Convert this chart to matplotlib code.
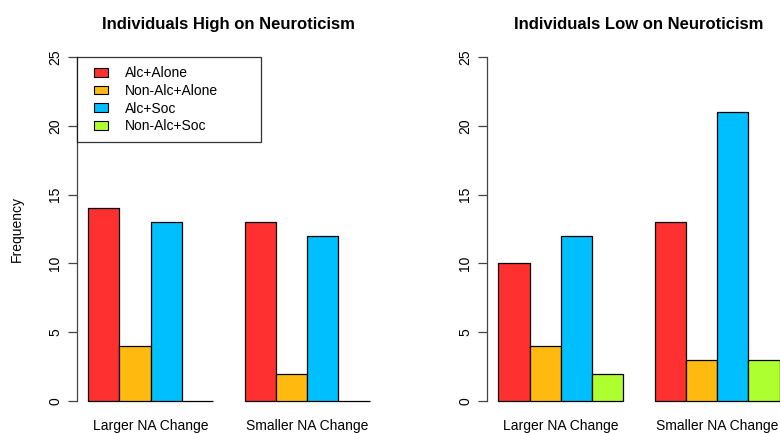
import numpy as np
import matplotlib.pyplot as plt
from matplotlib.patches import Patch
from matplotlib.legend_handler import HandlerPatch

plt.rcParams['font.family'] = ['Liberation Sans', 'DejaVu Sans']

groups = ['Larger NA Change', 'Smaller NA Change']
series = ['Alc+Alone', 'Non-Alc+Alone', 'Alc+Soc', 'Non-Alc+Soc']
colors = ['#FF3030', '#FFB90F', '#00BFFF', '#ADFF2F']

# rows = series, columns = groups
high = [[14, 13], [4, 2], [13, 12], [0, 0]]
low = [[10, 13], [4, 3], [12, 21], [2, 3]]

titles = ['Individuals High on Neuroticism', 'Individuals Low on Neuroticism']
yticks = [0, 5, 10, 15, 20, 25]

fig = plt.figure(figsize=(7.8, 4.33), dpi=100)
axl = fig.add_axes([0.0983, 0.042, 0.3902, 0.858])
axr = fig.add_axes([0.6244, 0.042, 0.3897, 0.858])

def draw(ax, data, title):
    nser = len(series)
    for i, vals in enumerate(data):
        x = [g * (nser + 1) + 1.5 + i for g in range(len(groups))]
        ax.bar(x, vals, width=1, color=colors[i], edgecolor='black', linewidth=0.9)
    ax.set_xlim(0.64, 10.36)
    ax.set_ylim(-1, 26)
    centers = [g * (nser + 1) + 1 + nser / 2 for g in range(len(groups))]
    ax.set_xticks(centers)
    ax.set_xticklabels(groups, fontsize=10)
    ax.tick_params(axis='x', length=0, pad=3)
    ax.set_yticks(yticks)
    ax.set_yticklabels([str(t) for t in yticks], rotation=90, va='center', fontsize=10)
    ax.tick_params(axis='y', length=6.5, pad=4, color='#444444', width=0.9)
    for s in ['top', 'right', 'bottom']:
        ax.spines[s].set_visible(False)
    ax.spines['left'].set_bounds(0, 25)
    ax.spines['left'].set_color('#444444')
    ax.spines['left'].set_linewidth(0.9)
    ax.set_title(title, fontsize=12, fontweight='bold', pad=10)

draw(axl, high, titles[0])
draw(axr, low, titles[1])

axl.set_ylabel('Frequency', fontsize=10)
axl.yaxis.set_label_coords(-0.175, 0.5)

handles = [Patch(facecolor=c, edgecolor='black', linewidth=0.8) for c in colors]
leg = axl.legend(handles, series, loc='upper left',
                 bbox_to_anchor=(0, 0, 0.605, 26 / 27), mode='expand',
                 borderaxespad=0, fontsize=10, frameon=True, fancybox=False,
                 edgecolor='black', handlelength=1.58, handleheight=0.6,
                 handletextpad=1.22, borderpad=0.65, labelspacing=0.27,
                 handler_map={Patch: HandlerPatch(xpad=0.58)})
leg.get_frame().set_linewidth(0.9)

fig.savefig('out.png', dpi=100)
